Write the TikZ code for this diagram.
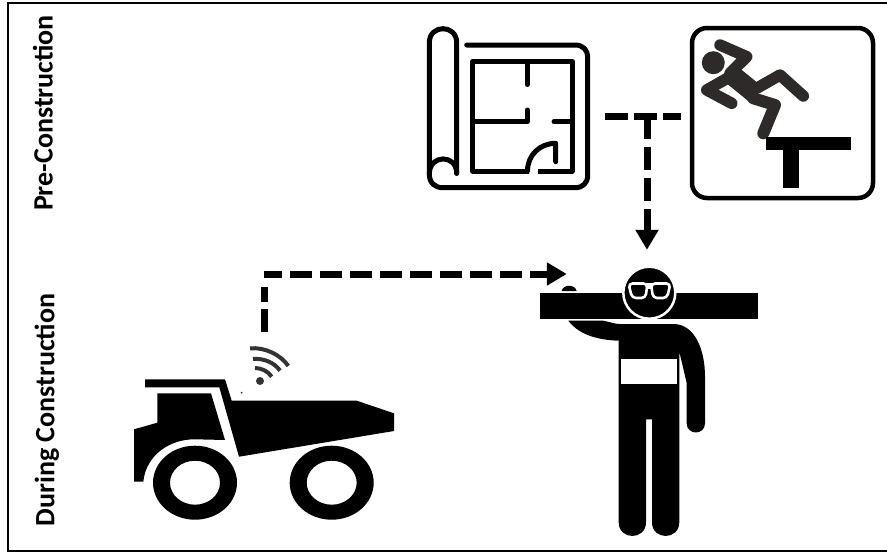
\documentclass[tikz,border=0pt]{standalone}
\usepackage{fontspec}
\setmainfont{Carlito}
\usetikzlibrary{arrows.meta, positioning}
\begin{document}
\begin{tikzpicture}[x=1pt,y=-1pt,
  lbl/.style={font=\bfseries\fontsize{28}{30}\selectfont,rotate=90,inner sep=0pt},
  hidden/.style={inner sep=0pt,minimum width=#1},
  dashln/.style={line width=7pt,draw=black},
  arr/.style={dashln,-{Triangle[length=20pt,width=22pt]}},
  iconln/.style={line width=5pt,line cap=round,line join=round},
  limb/.style={line width=11.5pt,line cap=round,line join=round,draw=black!95!yellow},
  waveln/.style={line width=4pt,draw=black!80},
  lens/.style={fill=black,draw=white,line width=2.6pt,rounded corners=4pt}
]
\useasboundingbox (0,0) rectangle (887,552);
\draw[line width=2pt] (887,2.5) -- (7.5,2.5) -- (7.5,550.5) -- (887,550.5);
\node[lbl] (pre) at (43,113) {Pre-Construction};
\node[lbl] (during) at (47,410) {During Construction};

\node[hidden=176pt,minimum height=168pt] (plan) at (517,108) {};
\node[draw,line width=4.5pt,rounded corners=15pt,minimum width=181pt,minimum height=170pt] (sign) at (782.5,113) {};
\node[hidden=160pt,minimum height=285pt] (worker) at (647,392.5) {};
\node[hidden=260pt,minimum height=112pt] (truck) at (264,388) {};
\coordinate (tee) at (647,116);
\coordinate (bend) at (264,274);

% blueprint
\draw[iconln] (456.7,173.3) -- (456.7,42.7) .. controls (456.7,24) and (429.3,24) .. (429.3,42.7) -- (429.3,174)
  .. controls (429.3,183) and (435,187.7) .. (443,187.7) -- (575,187.7) .. controls (583,187.7) and (587.7,183) .. (587.7,175)
  -- (587.7,57) .. controls (587.7,50) and (583,45) .. (575,45) -- (466.7,45);
\draw[iconln] (429.3,174) .. controls (429.3,154) and (456.7,154) .. (456.7,173.3);
\draw[iconln,line cap=butt] (529.3,171) -- (472.7,171) -- (472.7,61.7) -- (572.3,61.7) -- (572.3,171) -- (538.3,171);
\draw[iconln] (527.3,61.7) -- (527.3,84.5);
\draw[iconln] (472.7,121.7) -- (527.3,121.7) -- (527.3,110);
\draw[iconln] (554,121.7) -- (572.3,121.7);
\draw[iconln] (527.5,171) .. controls (527.5,155) and (540,143.3) .. (555.7,143.3) -- (555.7,161.7);

% falling figure
\fill[black!95!yellow] (713.3,62.7) circle[radius=11.5];
\draw[limb] (720,45) -- (746.7,56.7) -- (730,73.3);
\draw[limb,line width=20pt,line cap=butt] (730,73.3) -- (756.7,95);
\draw[limb] (731.7,103.3) -- (706.7,90) -- (730,76.7);
\draw[limb] (756.7,88.3) -- (780,75) -- (803.3,96);
\draw[limb,line width=12pt] (753.3,98.3) -- (775,105) -- (763.3,133.3);
\fill (766,137.3) rectangle (850.7,150);
\fill (783.3,150) rectangle (799,188.3);

% truck
\fill (145,379.3) -- (225,379.3) -- (231.7,400.7) -- (356.7,400.7) -- (394,413.3) -- (394,431) -- (239,456.7) -- (219.3,387.3) -- (145,387.3) -- cycle;
\fill (157.3,393.3) -- (211,393.3) -- (225,440) -- (195,439.3) .. controls (170,439) and (146,455) .. (143.3,481.7) -- (134,481.7) -- (134,429.3) -- (157.3,422.7) -- cycle;
\foreach \wx in {195,331.7}
  \fill[even odd rule] (\wx,482.7) ellipse[x radius=42,y radius=37] (\wx,482.7) ellipse[x radius=25,y radius=22];

% wifi
\fill[black!80] (260,381) circle[radius=4];
\fill[black!80] (241.7,392.7) circle[radius=1];
\draw[waveln] (255,368) .. controls (261,368) and (268,371) .. (271.7,376.7);
\draw[waveln] (253,359) .. controls (264,358) and (275,363) .. (280,370.7);
\draw[waveln] (250,348.3) .. controls (265,347) and (281,355) .. (288.3,366);

% worker
\fill (540,293.3) rectangle (757.7,319);
\fill (561.7,291) .. controls (563,284) and (575,284) .. (576.7,291) -- cycle;
\fill[draw=white,line width=2.5pt] (649.3,292.7) circle[radius=26];
\fill[white] (645,283) rectangle (654,288.5);
\draw[lens] (628.5,283.5) -- (647.5,283.5) -- (645.5,298) -- (632,298) -- cycle;
\draw[lens] (651,283.5) -- (670.5,283.5) -- (667,298) -- (653,298) -- cycle;
\fill (618.7,324) -- (673.3,324) .. controls (695,324) and (705,350) .. (705,376.7) -- (705,423.3)
  .. controls (705,435.5) and (686.7,435.5) .. (686.7,423.3) -- (686.7,383) -- (679.3,351.7) -- (679.3,522.3)
  .. controls (679.3,540.5) and (652,540.5) .. (652,522.3) -- (652,419.3) -- (646,419.3) -- (646,522.3)
  .. controls (646,540.5) and (618.7,540.5) .. (618.7,522.3) -- cycle;
\fill (568.3,320.7) -- (603.3,320.7) .. controls (610,322) and (615,324) .. (620,324) -- (618.7,340.7) .. controls (600,340) and (580,336) .. (568.3,320.7) -- cycle;
\fill[white] (620.7,359.3) rectangle (677.3,384.3);

% connectors
\draw[dashln,dash pattern=on 23pt off 6pt,shorten >=9pt] (plan.east |- tee) -- (sign.west |- tee);
\draw[arr,dash pattern=on 23pt off 8pt] (tee) -- (tee |- worker.north);
\draw[dashln,dash pattern=on 23pt off 7pt on 15pt off 60pt] (truck.north -| bend) -- (bend);
\draw[arr,dash pattern=on 22pt off 8pt,dash phase=4pt] (bend) -- (bend -| worker.west);
\end{tikzpicture}
\end{document}
